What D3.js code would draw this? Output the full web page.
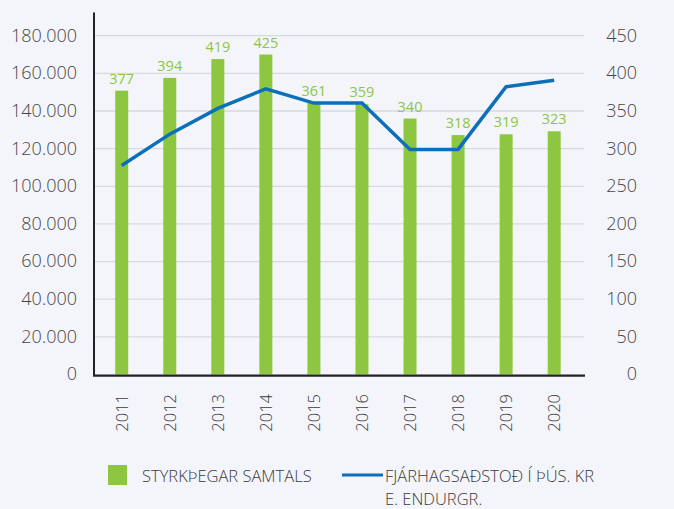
<!DOCTYPE html>
<html><head><meta charset="utf-8">
<script src="https://cdn.jsdelivr.net/npm/d3@7"></script>
<style>
html,body{margin:0;padding:0;background:#f4f5fa;}
svg{display:block;font-family:"Open Sans",sans-serif;}
</style></head><body>
<svg id="c" width="674" height="509"></svg>
<script>
const years = ["2011","2012","2013","2014","2015","2016","2017","2018","2019","2020"];
const recipients = [377,394,419,425,361,359,340,318,319,323];
const assistance = [111000,127700,141400,151800,144200,144200,119600,119600,152900,156300];
const leftTicks = [0,20000,40000,60000,80000,100000,120000,140000,160000,180000];
const rightTicks = [0,50,100,150,200,250,300,350,400,450];
const legendBar = "STYRKÞEGAR SAMTALS";
const legendLine = ["FJÁRHAGSAÐSTOÐ Í ÞÚS. KR","E. ENDURGR."];

const svg = d3.select("#c");
const W = 674, H = 509;
svg.append("rect").attr("width",W).attr("height",H).attr("fill","#f4f5fa");

const x0 = 94, x1 = 584, yTop = 35.7, yBase = 374.5;
const x = d3.scaleBand().domain(years).range([97.7, 578.2]).paddingInner(0.73).paddingOuter(0.365);
const yL = d3.scaleLinear().domain([0,180000]).range([yBase,yTop]);
const yR = d3.scaleLinear().domain([0,450]).range([yBase,yTop]);
const fmt = v => v===0 ? "0" : d3.format(",")(v).replace(/,/g,".");

// grid
svg.append("g").selectAll("line").data(leftTicks.slice(1)).join("line")
  .attr("x1",x0).attr("x2",x1).attr("y1",d=>yL(d)).attr("y2",d=>yL(d))
  .attr("stroke","#d8d9de").attr("stroke-width",1.3);

// left axis labels
const gl = svg.append("g").attr("transform",`translate(${x0},0)`)
  .call(d3.axisLeft(yL).tickValues(leftTicks).tickFormat(fmt).tickSize(0).tickPadding(17));
gl.select(".domain").remove();
gl.selectAll("text").attr("fill","#464646").attr("font-size","18px").attr("font-weight",300).attr("font-family","Open Sans, sans-serif").attr("dy","0.3em");

const gr = svg.append("g").attr("transform",`translate(637,0)`)
  .call(d3.axisLeft(yR).tickValues(rightTicks).tickSize(0).tickPadding(0));
gr.select(".domain").remove();
gr.selectAll("text").attr("fill","#464646").attr("font-size","18px").attr("font-weight",300).attr("font-family","Open Sans, sans-serif").attr("dy","0.3em");

// bars
svg.append("g").selectAll("rect").data(years).join("rect")
  .attr("x",d=>x(d)).attr("width",x.bandwidth())
  .attr("y",(d,i)=>yR(recipients[i])).attr("height",(d,i)=>yBase-yR(recipients[i]))
  .attr("fill","#8dc63f");

// bar labels
svg.append("g").selectAll("text").data(years).join("text")
  .attr("x",d=>x(d)+x.bandwidth()/2).attr("y",(d,i)=>yR(recipients[i])-7)
  .attr("text-anchor","middle").attr("font-size","14.5px").attr("fill","#8dc63f")
  .text((d,i)=>recipients[i]);

// line
const line = d3.line().x((d,i)=>x(years[i])+x.bandwidth()/2).y(d=>yL(d));
svg.append("path").datum(assistance).attr("d",line)
  .attr("fill","none").attr("stroke","#0b70b9").attr("stroke-width",3.5).attr("stroke-linejoin","miter");

// axes lines
svg.append("line").attr("x1",x0).attr("x2",x0).attr("y1",12.5).attr("y2",yBase+1.5)
  .attr("stroke","#222").attr("stroke-width",2);
svg.append("line").attr("x1",x0-1).attr("x2",585).attr("y1",yBase+1.2).attr("y2",yBase+1.2)
  .attr("stroke","#222").attr("stroke-width",2.2);

// x labels
svg.append("g").selectAll("text").data(years).join("text")
  .attr("transform",d=>`translate(${x(d)+x.bandwidth()/2+6},394) rotate(-90)`)
  .attr("text-anchor","end").attr("font-size","16.5px").attr("font-weight",300).attr("fill","#3a3a3a").text(d=>d);

// legend
svg.append("rect").attr("x",108).attr("y",465).attr("width",19).attr("height",20).attr("fill","#8dc63f");
svg.append("text").attr("x",142).attr("y",482).attr("font-size","16.5px").attr("font-weight",300).attr("fill","#3a3a3a").text(legendBar);
svg.append("line").attr("x1",342).attr("x2",383).attr("y1",475).attr("y2",475).attr("stroke","#0b70b9").attr("stroke-width",3);
svg.append("text").attr("x",385).attr("y",482).attr("font-size","16.5px").attr("font-weight",300).attr("fill","#3a3a3a").text(legendLine[0]);
svg.append("text").attr("x",385).attr("y",505).attr("font-size","16.5px").attr("font-weight",300).attr("fill","#3a3a3a").text(legendLine[1]);
</script>
</body></html>
